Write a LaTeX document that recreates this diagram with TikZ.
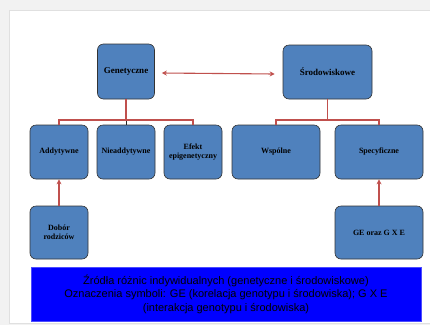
\documentclass[tikz,border=0pt]{standalone}
\usepackage{fontspec}
\setmainfont{Liberation Serif}
\newfontfamily\arialf{Liberation Sans}
\usetikzlibrary{arrows.meta}
\definecolor{boxblue}{HTML}{4F81BD}
\definecolor{conred}{HTML}{C0504D}
\definecolor{pagebg}{HTML}{F2F2F2}
\tikzset{
  box/.style={draw=black!80, line width=0.6pt, fill=boxblue, rounded corners=6pt,
    align=center, font=\bfseries\fontsize{8}{9}\selectfont, inner sep=1pt},
  conn/.style={draw=conred, line width=1.1pt},
  arr/.style={conn, -{Stealth[length=5pt,width=5pt]}},
}
\begin{document}
\begin{tikzpicture}[x=1pt,y=-1pt]
\useasboundingbox (0,0) rectangle (430,325);
\fill[pagebg] (0,0) rectangle (430,325);
\fill[white] (9,10) rectangle (430,323);
\draw[black!12, line width=0.6pt] (430,10) -- (9,10) -- (9,323) -- (430,323);
% top level
\node[box, minimum width=57pt, minimum height=55pt, font=\bfseries\fontsize{9}{10}\selectfont] (gen) at (126,71.5) {Genetyczne};
\node[box, minimum width=89pt, minimum height=54pt, font=\bfseries\fontsize{9}{10}\selectfont] (sro) at (327.5,72) {Środowiskowe};
% second row
\node[box, minimum width=58pt, minimum height=54pt] (add) at (59,152) {Addytywne};
\node[box, minimum width=58pt, minimum height=54pt] (nie) at (126,152) {Nieaddytywne};
\node[box, minimum width=58pt, minimum height=54pt] (efe) at (193,152) {Efekt\\epigenetyczny};
\node[box, minimum width=88pt, minimum height=54pt] (wsp) at (276,152) {Wspólne};
\node[box, minimum width=88pt, minimum height=54pt] (spe) at (379,152) {Specyficzne};
% third row
\node[box, minimum width=58pt, minimum height=53pt] (dob) at (59,232.5) {Dobór\\rodziców};
\node[box, minimum width=88pt, minimum height=53pt] (gex) at (379,232.5) {GE oraz G X E};
% connectors
\draw[conn, {Stealth[length=5pt,width=5pt]}-{Stealth[length=5pt,width=5pt]}] ([xshift=7pt,yshift=-1.5pt]gen.east) -- ([xshift=-8pt,yshift=-2pt]sro.west);
\coordinate (lj) at (126,120);
\coordinate (rj) at (327.5,120);
\draw[conn] (gen.south) -- (lj);
\draw[black!85, line width=1pt] (lj) -- (nie.north);
\draw[conn] (add.north) |- (lj) -| (efe.north);
\draw[conn] (sro.south) -- (rj);
\draw[conn] (wsp.north) |- (rj) -| (spe.north);
\draw[arr] (dob.north) -- (add.south);
\draw[arr] (gex.north) -- (spe.south);
% caption
\node[fill=blue, draw=blue!70!white, line width=0.5pt, minimum width=390pt, minimum height=54pt,
  align=center, font=\arialf\fontsize{11}{13.5}\selectfont, inner sep=0pt] (cap) at (226,294)
  {Źródła różnic indywidualnych (genetyczne i środowiskowe)\\
   Oznaczenia symboli: GE (korelacja genotypu i środowiska); G X E\\
   (interakcja genotypu i środowiska)};
\end{tikzpicture}
\end{document}
